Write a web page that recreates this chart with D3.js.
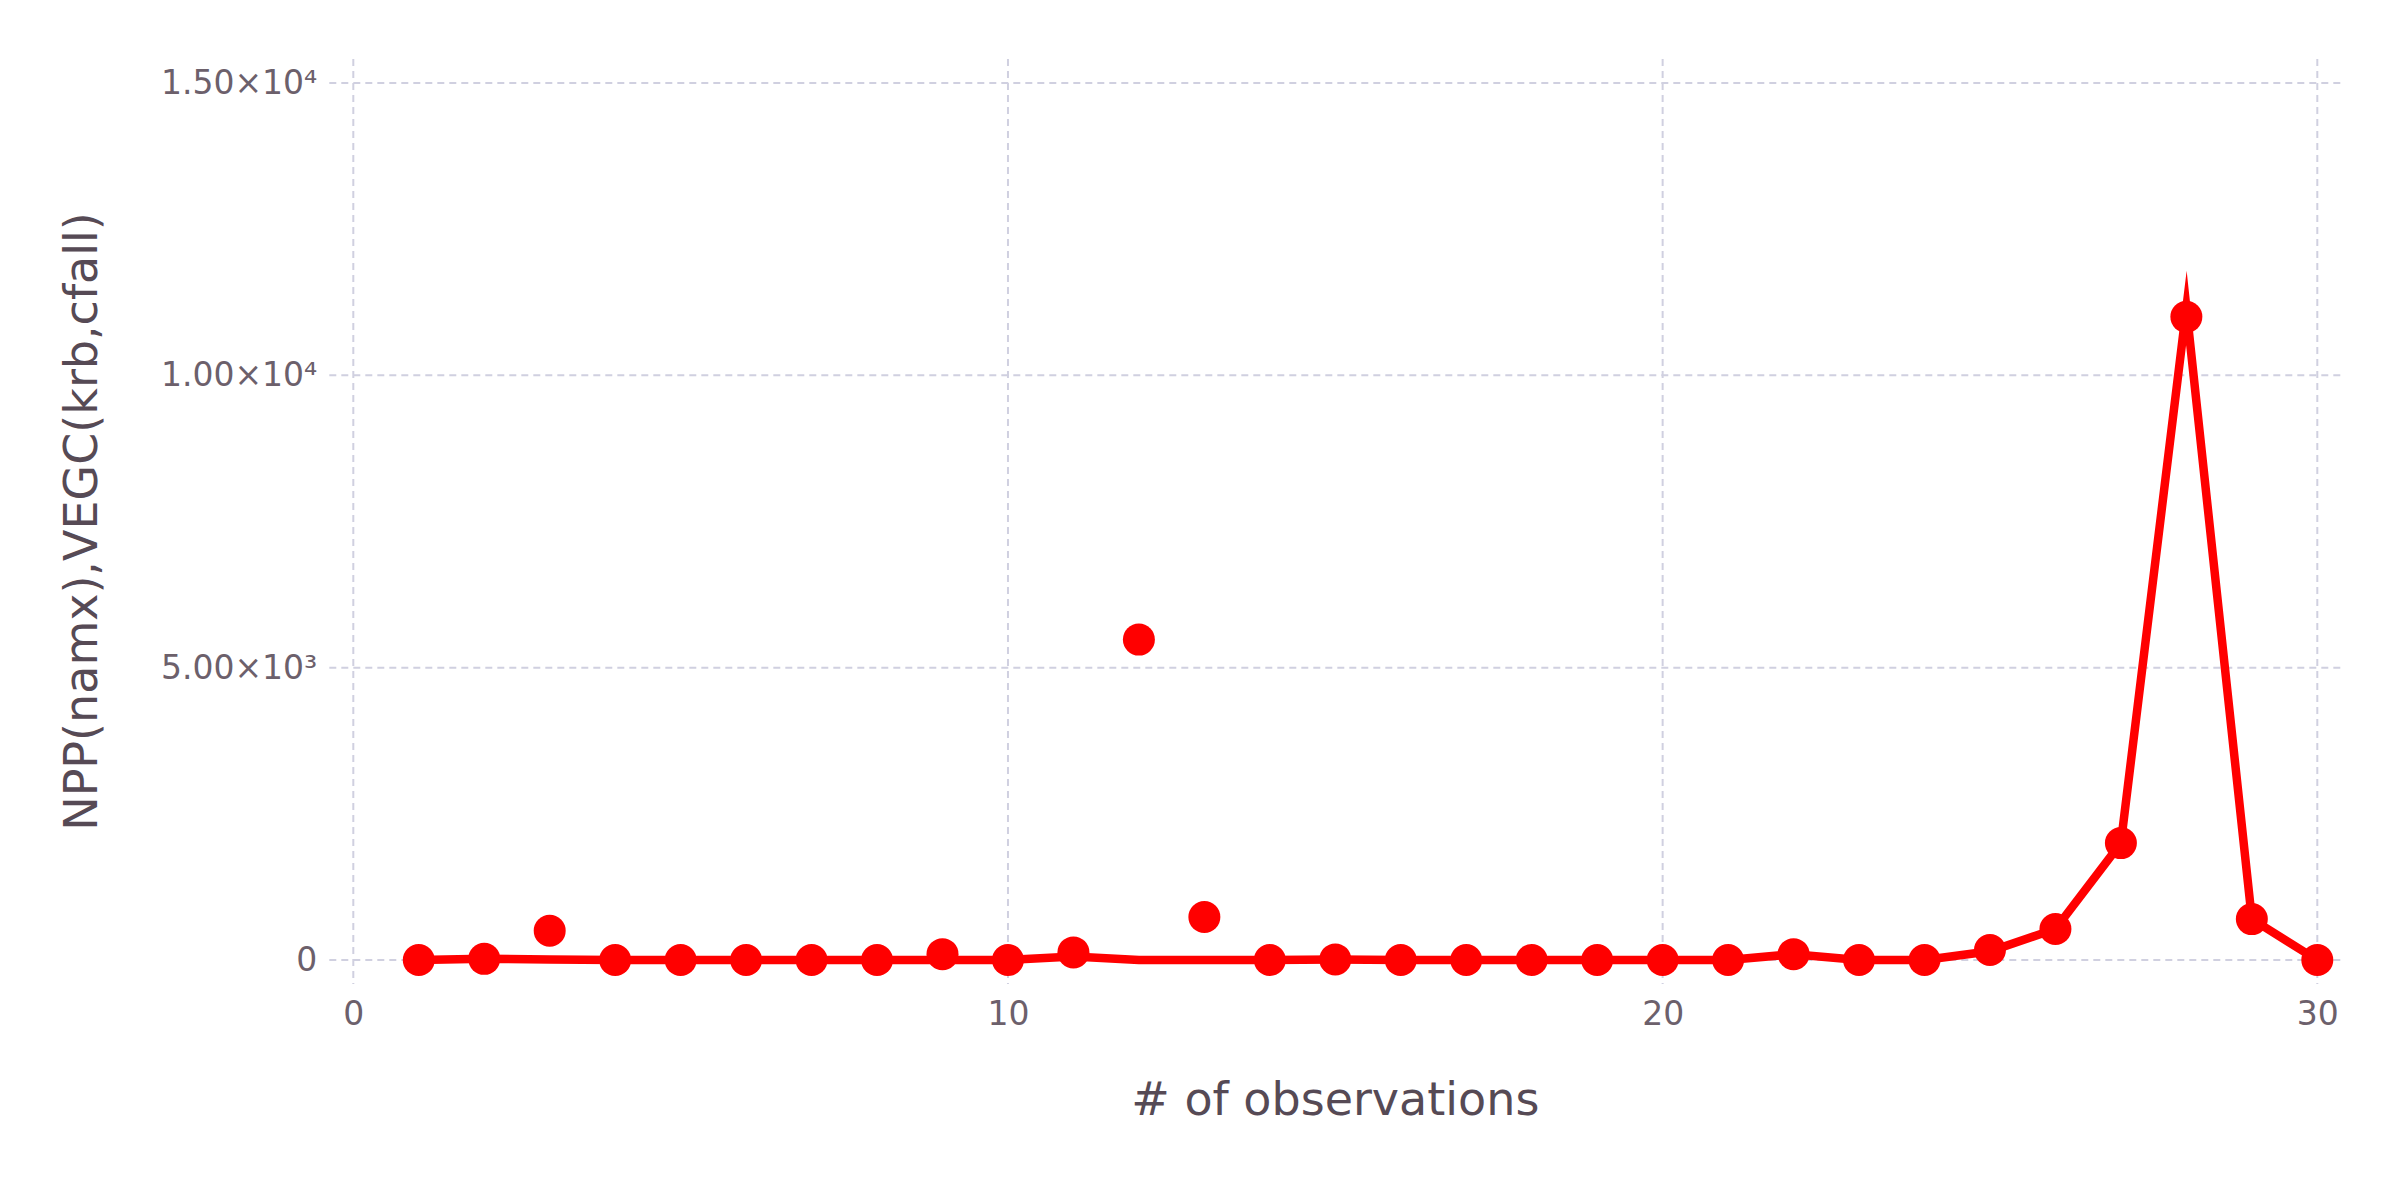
<!DOCTYPE html>
<html>
<head>
<meta charset="utf-8">
<script src="https://cdn.jsdelivr.net/npm/d3@7"></script>
<style>
  body { margin: 0; background: #ffffff; }
  text { font-family: "DejaVu Sans", sans-serif; }
</style>
</head>
<body>
<div id="chart"></div>
<script>
// x: observation number
const observations = [1, 2, 3, 4, 5, 6, 7, 8, 9, 10, 11, 12, 13, 14, 15,
                      16, 17, 18, 19, 20, 21, 22, 23, 24, 25, 26, 27, 28, 29, 30];
// points (observed values)
const pointValues = [0, 20, 500, 0, 0, 0, 0, 0, 100, 0, 130, 5480, 735, 0, 10,
                     0, 0, 0, 0, 0, 0, 100, 0, 0, 170, 530, 2000, 11000, 700, 0];
// line (model values)
const lineValues = [0, 20, 10, 0, 0, 0, 0, 0, 0, 0, 60, 0, 0, 0, 10,
                    0, 0, 0, 0, 0, 0, 100, 0, 0, 150, 530, 2000, 11150, 700, 0];

const xTicks = [0, 10, 20, 30];
const yTicks = [0, 5000, 10000, 15000];
const yTickLabels = ["0", "5.00×10³", "1.00×10⁴", "1.50×10⁴"];

const xTitle = "# of observations";
const yTitle = "NPP(namx),VEGC(krb,cfall)";

const W = 2400, H = 1200;

const svg = d3.select("#chart")
    .append("svg")
    .attr("width", W)
    .attr("height", H)
    .style("background-color", "#ffffff");

const x = d3.scaleLinear().domain([0, 30]).range([353.3, 2317.3]);
const y = d3.scaleLinear().domain([0, 15000]).range([960, 83]);

const pad = 24;
const gridColor = "#d0d0e0";

// grid
svg.append("g").selectAll("line")
    .data(xTicks)
    .enter()
    .append("line")
    .attr("x1", d => x(d))
    .attr("x2", d => x(d))
    .attr("y1", y(15000) - pad)
    .attr("y2", y(0) + pad)
    .attr("stroke", gridColor)
    .attr("stroke-width", 2)
    .attr("stroke-dasharray", "7,5");

svg.append("g").selectAll("line")
    .data(yTicks)
    .enter()
    .append("line")
    .attr("x1", x(0) - pad)
    .attr("x2", x(30) + pad)
    .attr("y1", d => y(d))
    .attr("y2", d => y(d))
    .attr("stroke", gridColor)
    .attr("stroke-width", 2)
    .attr("stroke-dasharray", "7,5");

// axes (labels only)
const xAxis = svg.append("g")
    .attr("transform", `translate(0, ${y(0) + 42})`)
    .call(d3.axisBottom(x).tickValues(xTicks).tickSize(0).tickPadding(0).tickFormat(d3.format("d")));
xAxis.select(".domain").remove();
xAxis.selectAll("text")
    .attr("dy", "0.71em")
    .attr("font-size", 33)
    .attr("fill", "#6c606b")
    .style("font-family", "DejaVu Sans");

const yAxis = svg.append("g")
    .attr("transform", `translate(${x(0) - 36}, 0)`)
    .call(d3.axisLeft(y).tickValues(yTicks).tickSize(0).tickPadding(0)
        .tickFormat((d, i) => yTickLabels[i]));
yAxis.select(".domain").remove();
yAxis.selectAll("text")
    .attr("font-size", 33)
    .attr("fill", "#6c606b")
    .style("font-family", "DejaVu Sans");

// titles
svg.append("text")
    .attr("x", (x(0) + x(30)) / 2)
    .attr("y", 1115)
    .attr("text-anchor", "middle")
    .attr("font-size", 46)
    .attr("fill", "#564a55")
    .text(xTitle);

svg.append("text")
    .attr("transform", `translate(97, ${(y(0) + y(15000)) / 2}) rotate(-90)`)
    .attr("text-anchor", "middle")
    .attr("font-size", 46)
    .attr("fill", "#564a55")
    .text(yTitle);

// line
const line = d3.line()
    .x((d, i) => x(observations[i]))
    .y(d => y(d));

svg.append("path")
    .datum(lineValues)
    .attr("d", line)
    .attr("fill", "none")
    .attr("stroke", "#ff0000")
    .attr("stroke-width", 8.5)
    .attr("stroke-linejoin", "miter")
    .attr("stroke-miterlimit", 10);

// points
svg.append("g").selectAll("circle")
    .data(pointValues)
    .enter()
    .append("circle")
    .attr("cx", (d, i) => x(observations[i]))
    .attr("cy", d => y(d))
    .attr("r", 16)
    .attr("fill", "#ff0000");
</script>
</body>
</html>
